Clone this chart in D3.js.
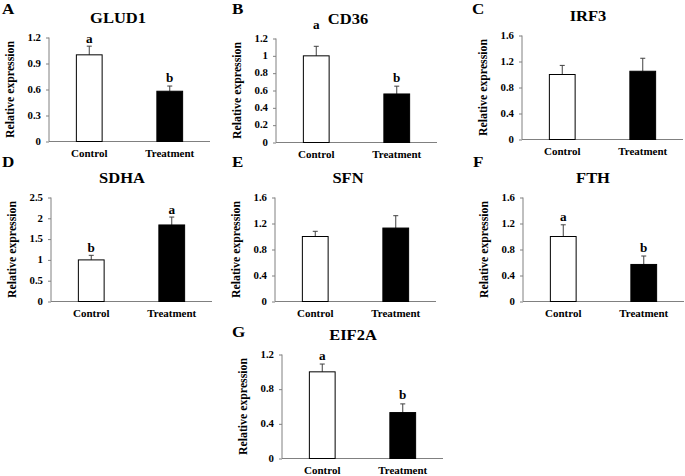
<!DOCTYPE html>
<html>
<head>
<meta charset="utf-8">
<script src="https://cdn.jsdelivr.net/npm/d3@7"></script>
<style>
  html, body { margin: 0; padding: 0; background: #fff; }
  svg { display: block; }
</style>
</head>
<body>
<svg id="chart" width="685" height="476"></svg>
<script>
// ---------------- DATA ----------------
const genes = ["GLUD1", "CD36", "IRF3", "SDHA", "SFN", "FTH", "EIF2A"];
const panelLetters = ["A", "B", "C", "D", "E", "F", "G"];
const groups = ["Control", "Treatment"];
const controlMeans = [1.00, 1.00, 1.00, 1.00, 1.00, 1.00, 1.00];
const controlErrors = [0.10, 0.11, 0.14, 0.11, 0.08, 0.18, 0.09];
const treatmentMeans = [0.58, 0.56, 1.05, 1.84, 1.13, 0.57, 0.53];
const treatmentErrors = [0.06, 0.09, 0.20, 0.19, 0.19, 0.13, 0.10];
const controlSig = ["a", "a", "", "b", "", "a", "a"];
const treatmentSig = ["b", "b", "", "a", "", "b", "b"];
const yMaxes = [1.2, 1.2, 1.6, 2.5, 1.6, 1.6, 1.2];
const yTickValues = [
  [0, 0.3, 0.6, 0.9, 1.2],
  [0, 0.2, 0.4, 0.6, 0.8, 1, 1.2],
  [0, 0.4, 0.8, 1.2, 1.6],
  [0, 0.5, 1, 1.5, 2, 2.5],
  [0, 0.4, 0.8, 1.2, 1.6],
  [0, 0.4, 0.8, 1.2, 1.6],
  [0, 0.4, 0.8, 1.2]
];
const yLabel = "Relative expression";

// ---------------- LAYOUT ----------------
const FONT = "'Liberation Serif', Tinos, 'Times New Roman', serif";
const panelX = [49, 276, 522, 51, 275, 523, 282];      // y-axis x position
const panelTop = [37.5, 38.5, 35.5, 197.5, 197.5, 197.5, 354.5];
const plotW = 161, plotH = 104;
const letterPos = [[2, 14], [232, 14], [472, 14], [2, 167], [232, 167], [473, 167], [232, 337]];
const titleDx = [69, 72, 66, 71, 73, 70, 71];
const sigShift = [[-3, -4], [-17, -4], [0, 0], [-3, -3], [0, 0], [-4, -4], [-4, -5]];
const stretch = 1.1;
const axisColor = "#808080";

const svg = d3.select("#chart");

function stretchedText(g, x, y, str, size, anchor) {
  return g.append("text")
    .attr("transform", `translate(${x},${y}) scale(${stretch},1)`)
    .attr("text-anchor", anchor || "middle")
    .attr("font-family", FONT)
    .attr("font-weight", "bold")
    .attr("font-size", size)
    .attr("fill", "#000")
    .text(str);
}

genes.forEach((gene, i) => {
  const ox = panelX[i], top = panelTop[i];
  const g = svg.append("g");
  const y = d3.scaleLinear().domain([0, yMaxes[i]]).range([top + plotH, top]);
  const x = d3.scaleBand().domain(groups).range([ox, ox + plotW]).padding(0);
  const bw = x.bandwidth() * 0.32;

  // panel letter
  stretchedText(g, letterPos[i][0], letterPos[i][1], panelLetters[i], 15.5, "start");

  // title
  stretchedText(g, ox + titleDx[i], top - 15, gene, 15);

  // y axis label
  g.append("text")
    .attr("transform", `translate(${ox - 35},${top + plotH / 2}) rotate(-90) scale(1,${stretch})`)
    .attr("text-anchor", "middle")
    .attr("font-family", FONT)
    .attr("font-weight", "bold")
    .attr("font-size", 11.8)
    .text(yLabel);

  // y axis
  const yAxis = g.append("g")
    .attr("transform", `translate(${ox},0)`)
    .call(d3.axisLeft(y).tickValues(yTickValues[i]).tickSize(3).tickFormat(d3.format("~g")));
  yAxis.select(".domain").attr("stroke", axisColor).attr("stroke-width", 1)
    .attr("d", `M0,${top}V${top + plotH}`);
  yAxis.selectAll(".tick line").attr("stroke", axisColor);
  yAxis.selectAll(".tick text").remove();
  yTickValues[i].forEach(v => {
    stretchedText(g, ox - 8, y(v) + 3.3, d3.format("~g")(v), 9.8, "end");
  });

  // x axis line
  g.append("line")
    .attr("x1", ox).attr("x2", ox + plotW)
    .attr("y1", y(0)).attr("y2", y(0))
    .attr("stroke", axisColor).attr("stroke-width", 1.2);

  // category labels
  groups.forEach(grp => {
    stretchedText(g, x(grp) + x.bandwidth() / 2, y(0) + 15.5, grp, 10);
  });

  const rows = [
    { grp: "Control", mean: controlMeans[i], err: controlErrors[i], fill: "#fff", sig: controlSig[i], sh: sigShift[i][0] },
    { grp: "Treatment", mean: treatmentMeans[i], err: treatmentErrors[i], fill: "#000", sig: treatmentSig[i], sh: sigShift[i][1] }
  ];

  rows.forEach(r => {
    const cx = x(r.grp) + x.bandwidth() / 2;
    // error bar (upper only)
    g.append("line")
      .attr("x1", cx).attr("x2", cx)
      .attr("y1", y(r.mean)).attr("y2", y(r.mean + r.err))
      .attr("stroke", "#404040").attr("stroke-width", 1);
    g.append("line")
      .attr("x1", cx - 2.5).attr("x2", cx + 2.5)
      .attr("y1", y(r.mean + r.err)).attr("y2", y(r.mean + r.err))
      .attr("stroke", "#404040").attr("stroke-width", 1);
    // bar
    g.append("rect")
      .attr("x", cx - bw / 2).attr("width", bw)
      .attr("y", y(r.mean)).attr("height", y(0) - y(r.mean))
      .attr("fill", r.fill).attr("stroke", "#000").attr("stroke-width", 1);
    if (r.sig) {
      stretchedText(g, cx, y(r.mean + r.err) + r.sh, r.sig, 12);
    }
  });
});
</script>
</body>
</html>
